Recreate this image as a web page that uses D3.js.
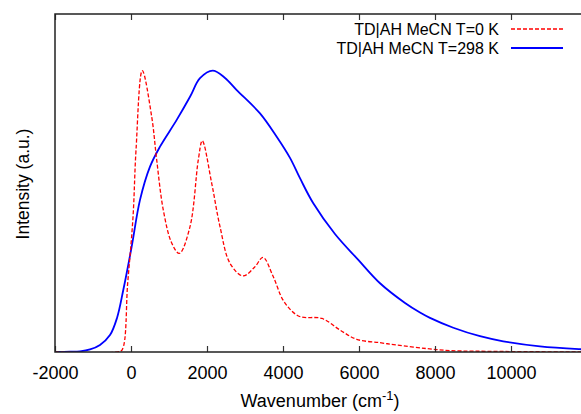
<!DOCTYPE html>
<html>
<head>
<meta charset="utf-8">
<script src="https://cdn.jsdelivr.net/npm/d3@7"></script>
<style>
  body { margin: 0; background: #fff; }
  text { font-family: "Liberation Sans", Arial, sans-serif; fill: #000; }
</style>
</head>
<body>
<div id="chart"></div>
<script>
// tick values along the wavenumber axis
const xTicks = [-2000, 0, 2000, 4000, 6000, 8000, 10000];

// T=0 K spectrum (wavenumber, intensity)
const cold_x = [-2000, -368, -237, -87, 53, 132, 297, 545, 676, 850, 1071, 1271, 1553, 1771, 1876, 2124, 2342, 2605, 2947, 3263, 3474, 3745, 4026, 4421, 5026, 5500, 5939, 6553, 6992, 7782, 8395, 9711, 12000];
const cold_y = [0, 0, 0.007, 0.245, 0.479, 0.717, 0.999, 0.835, 0.682, 0.504, 0.387, 0.350, 0.445, 0.682, 0.750, 0.599, 0.445, 0.315, 0.270, 0.303, 0.336, 0.267, 0.179, 0.127, 0.119, 0.078, 0.045, 0.033, 0.025, 0.012, 0.005, 0.002, 0];

// T=298 K spectrum
const warm_x = [-2000, -1605, -1342, -1079, -816, -553, -368, -203, 18, 237, 500, 763, 1203, 1553, 1816, 2150, 2474, 2782, 3395, 3834, 4184, 4447, 4797, 5368, 5982, 6553, 7211, 7605, 7868, 8482, 9184, 9797, 10763, 11816, 12000];
const warm_y = [0, 0.001, 0.0025, 0.009, 0.025, 0.060, 0.121, 0.220, 0.374, 0.540, 0.658, 0.729, 0.824, 0.906, 0.972, 0.999, 0.973, 0.930, 0.847, 0.764, 0.689, 0.617, 0.528, 0.419, 0.327, 0.244, 0.174, 0.140, 0.121, 0.086, 0.056, 0.038, 0.020, 0.010, 0.009];

const seriesNames = ["TD|AH MeCN T=0 K", "TD|AH MeCN T=298 K"];

const W = 581, H = 414;
const margin = {top: 14, left: 55, bottom: 62};

const svg = d3.select("#chart").append("svg")
    .attr("width", W)
    .attr("height", H);

const x = d3.scaleLinear()
  .domain([-2000, 12000])
  .range([margin.left, margin.left + 14000 * 0.038]);

const y = d3.scaleLinear()
  .domain([0, 1.2])
  .range([H - margin.bottom, margin.top]);

svg.append("clipPath").attr("id", "clip")
  .append("rect")
    .attr("x", margin.left).attr("y", margin.top)
    .attr("width", W - margin.left).attr("height", H - margin.bottom - margin.top);

const line = d3.line()
  .x(d => x(d[0]))
  .y(d => y(Math.max(0, d[1])))
  .curve(d3.curveCatmullRom.alpha(0.5));

const cold = cold_x.map((v, i) => [v, cold_y[i]]);
const warm = warm_x.map((v, i) => [v, warm_y[i]]);

const plot = svg.append("g").attr("clip-path", "url(#clip)");

plot.append("path")
    .datum(warm)
    .attr("fill", "none")
    .attr("stroke", "#0000ff")
    .attr("stroke-width", 1.8)
    .attr("d", line);

plot.append("path")
    .datum(cold)
    .attr("fill", "none")
    .attr("stroke", "#ff0000")
    .attr("stroke-width", 1.3)
    .attr("stroke-dasharray", "4,2")
    .attr("d", line);

// bottom axis, ticks pointing inward
const bottomAxis = svg.append("g")
  .attr("transform", `translate(0,${y(0)})`)
  .call(d3.axisBottom(x).tickValues(xTicks).tickSizeInner(-6).tickSizeOuter(0).tickPadding(14).tickFormat(d => String(d)));
bottomAxis.select(".domain").remove();
bottomAxis.selectAll(".tick line").attr("stroke", "#333").attr("stroke-width", 1.2);
bottomAxis.selectAll("text").style("font-size", "18px");

// top mirror ticks
const topAxis = svg.append("g")
  .attr("transform", `translate(0,${margin.top})`)
  .call(d3.axisTop(x).tickValues(xTicks).tickSizeInner(-6).tickSizeOuter(0).tickFormat(""));
topAxis.select(".domain").remove();
topAxis.selectAll(".tick line").attr("stroke", "#333").attr("stroke-width", 1.2);

// border (left, top, bottom)
svg.append("path")
    .attr("fill", "none")
    .attr("stroke", "#222")
    .attr("stroke-width", 1.5)
    .attr("d", `M${W},${margin.top}H${margin.left}V${y(0)}H${W}`);

// axis labels
const xl = svg.append("text")
    .attr("x", 320).attr("y", 407)
    .attr("text-anchor", "middle")
    .style("font-size", "18px");
xl.append("tspan").text("Wavenumber (cm");
xl.append("tspan").attr("dy", -7).style("font-size", "13px").text("-1");
xl.append("tspan").attr("dy", 7).text(")");

svg.append("text")
    .attr("transform", "translate(29,184) rotate(-90)")
    .attr("text-anchor", "middle")
    .style("font-size", "17.5px")
    .text("Intensity (a.u.)");

// legend
const legend = svg.append("g");
const legY = [29, 48];
const legStyle = [{c: "#ff0000", w: 1.3, dash: "4,2"}, {c: "#0000ff", w: 1.8, dash: null}];
seriesNames.forEach((name, i) => {
  legend.append("text")
      .attr("x", 499).attr("y", legY[i] + 6)
      .attr("text-anchor", "end")
      .style("font-size", "16px")
      .text(name);
  legend.append("line")
      .attr("x1", 511).attr("x2", 563)
      .attr("y1", legY[i]).attr("y2", legY[i])
      .attr("stroke", legStyle[i].c)
      .attr("stroke-width", legStyle[i].w)
      .attr("stroke-dasharray", legStyle[i].dash);
});
</script>
</body>
</html>
